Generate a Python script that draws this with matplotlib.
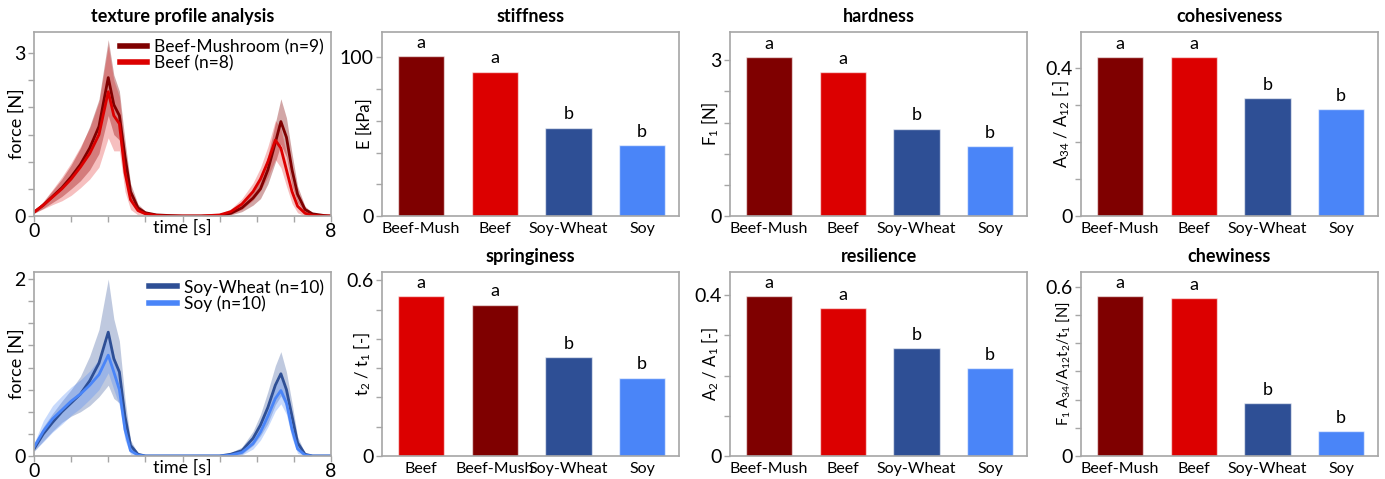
import numpy as np
import matplotlib.pyplot as plt

plt.rcParams['font.family'] = ['Lato', 'DejaVu Sans']
plt.rcParams['mathtext.fontset'] = 'custom'
plt.rcParams['mathtext.rm'] = 'Lato'
plt.rcParams['mathtext.it'] = 'Lato:italic'
plt.rcParams['mathtext.bf'] = 'Lato:bold'

C_BM = '#7f0000'
C_BEEF = '#dc0000'
C_SW = '#2e4f95'
C_SOY = '#4a85f8'
SPINE = '#a6a6a6'

# mean force curves of the two-bite compression test
t = [0, 0.25, 0.5, 0.75, 1.0, 1.25, 1.5, 1.75, 2.0, 2.15, 2.3, 2.45, 2.6, 2.8,
     3.0, 3.3, 3.6, 4.0, 4.5, 5.0, 5.3, 5.6, 5.9, 6.1, 6.3, 6.5, 6.65, 6.8,
     6.95, 7.1, 7.3, 7.5, 7.8, 8.0]

beef_mush_mean = [0.07, 0.2, 0.36, 0.52, 0.72, 0.95, 1.25, 1.65, 2.55, 2.05, 1.85, 1.1, 0.45, 0.15,
                  0.06, 0.02, 0.01, 0.0, 0.0, 0.01, 0.05, 0.15, 0.33, 0.5, 0.85, 1.35, 1.74, 1.45,
                  0.85, 0.4, 0.12, 0.04, 0.01, 0.0]
beef_mush_sd = [0.02, 0.06, 0.11, 0.16, 0.22, 0.3, 0.4, 0.5, 0.7, 0.55, 0.45, 0.3, 0.15, 0.07,
                0.03, 0.01, 0.0, 0.0, 0.0, 0.01, 0.03, 0.07, 0.13, 0.18, 0.26, 0.36, 0.42, 0.36,
                0.3, 0.15, 0.06, 0.02, 0.0, 0.0]
beef_mean = [0.07, 0.2, 0.35, 0.5, 0.68, 0.9, 1.15, 1.5, 2.29, 1.85, 1.7, 0.8, 0.3, 0.1,
             0.04, 0.01, 0.0, 0.0, 0.0, 0.02, 0.08, 0.22, 0.45, 0.68, 1.0, 1.4, 1.25, 0.85,
             0.45, 0.18, 0.05, 0.01, 0.0, 0.0]
beef_sd = [0.02, 0.07, 0.14, 0.22, 0.3, 0.38, 0.47, 0.6, 0.85, 0.65, 0.5, 0.35, 0.18, 0.08,
           0.03, 0.01, 0.0, 0.0, 0.0, 0.02, 0.05, 0.1, 0.16, 0.21, 0.28, 0.36, 0.36, 0.3,
           0.22, 0.12, 0.05, 0.02, 0.0, 0.0]

soy_wheat_mean = [0.08, 0.25, 0.38, 0.5, 0.6, 0.7, 0.85, 1.05, 1.4, 1.1, 0.95, 0.45, 0.12, 0.02,
                  0.0, 0.0, 0.0, 0.0, 0.0, 0.0, 0.02, 0.06, 0.2, 0.35, 0.55, 0.8, 0.93, 0.75,
                  0.45, 0.15, 0.02, 0.0, 0.0, 0.0]
soy_wheat_sd = [0.03, 0.08, 0.1, 0.12, 0.15, 0.2, 0.28, 0.38, 0.6, 0.45, 0.35, 0.2, 0.06, 0.01,
                0.0, 0.0, 0.0, 0.0, 0.0, 0.0, 0.02, 0.04, 0.08, 0.12, 0.18, 0.22, 0.25, 0.2,
                0.15, 0.07, 0.01, 0.0, 0.0, 0.0]
soy_mean = [0.1, 0.28, 0.42, 0.52, 0.62, 0.7, 0.8, 0.92, 1.14, 0.95, 0.75, 0.3, 0.06, 0.01,
            0.0, 0.0, 0.0, 0.0, 0.0, 0.0, 0.01, 0.04, 0.14, 0.27, 0.45, 0.65, 0.74, 0.6,
            0.3, 0.08, 0.01, 0.0, 0.0, 0.0]
soy_sd = [0.04, 0.12, 0.15, 0.16, 0.16, 0.16, 0.16, 0.17, 0.2, 0.2, 0.18, 0.12, 0.04, 0.01,
          0.0, 0.0, 0.0, 0.0, 0.0, 0.0, 0.01, 0.03, 0.06, 0.09, 0.12, 0.14, 0.15, 0.13,
          0.1, 0.05, 0.01, 0.0, 0.0, 0.0]

# TPA parameters (group means)
groups = ['Beef-Mush', 'Beef', 'Soy-Wheat', 'Soy']
groups_spring = ['Beef', 'Beef-Mush', 'Soy-Wheat', 'Soy']
stiffness = [100.7, 90.9, 55.6, 44.5]
hardness = [3.06, 2.77, 1.68, 1.35]
cohesiveness = [0.428, 0.428, 0.318, 0.288]
springiness = [0.547, 0.517, 0.338, 0.268]
resilience = [0.398, 0.368, 0.269, 0.219]
chewiness = [0.568, 0.559, 0.188, 0.089]
letters = ['a', 'a', 'b', 'b']

colour_of = {'Beef-Mush': C_BM, 'Beef': C_BEEF, 'Soy-Wheat': C_SW, 'Soy': C_SOY}

fig = plt.figure(figsize=(13.85, 4.79), dpi=100)

W, H = 1385, 479
lefts = [34, 382, 730, 1081]
tops = [32, 272]
aw, ah = 297, 184


def make_ax(row, col):
    x0 = lefts[col] / W
    y0 = 1 - (tops[row] + ah) / H
    return fig.add_axes([x0, y0, aw / W, ah / H])


def style(ax):
    for s in ax.spines.values():
        s.set_color(SPINE)
        s.set_linewidth(1.2)
    ax.tick_params(axis='y', direction='out', length=4, width=1, color=SPINE,
                   labelsize=14, pad=2)


def ends_only(vals, fmt):
    return [fmt(v) if i in (0, len(vals) - 1) else '' for i, v in enumerate(vals)]


def curve_panel(ax, series, ymax, yticks, ylabels, title=None):
    tt = np.array(t)
    for label, mean, sd, col, a in series:
        mean = np.array(mean)
        sd = np.array(sd)
        ax.fill_between(tt, np.clip(mean - sd, 0, None), mean + sd,
                        color=col, alpha=a, lw=0)
    for label, mean, sd, col, a in series:
        ax.plot(tt, mean, color=col, lw=2.0, label=label)
    style(ax)
    ax.set_xlim(0, 8)
    ax.set_ylim(0, ymax)
    ax.set_xticks(range(9))
    ax.set_xticklabels(ends_only(list(range(9)), str))
    ax.tick_params(axis='x', direction='out', length=4, width=1, color=SPINE,
                   labelsize=14, pad=1)
    ax.set_yticks(yticks)
    ax.set_yticklabels(ylabels)
    ax.set_xlabel('time [s]', fontsize=13)
    ax.xaxis.set_label_coords(0.5, -0.02)
    ax.set_ylabel('force [N]', fontsize=13)
    ax.yaxis.set_label_coords(-0.03, 0.5)
    leg = ax.legend(loc='upper right', frameon=False, fontsize=12.5,
                    handlelength=1.6, handletextpad=0.4, labelspacing=0.0,
                    borderaxespad=0.2, borderpad=0.2)
    for h in leg.get_lines():
        h.set_linewidth(4)
    if title:
        ax.set_title(title, fontsize=13, fontweight='bold', pad=7)


def bar_panel(ax, cats, vals, title, ylabel, ymax, step, top_tick, fmt, ylabel_size=12):
    x = np.arange(len(cats))
    cols = [colour_of[c] for c in cats]
    ax.bar(x, vals, width=0.63, color=cols, edgecolor=(1, 1, 1, 0.6), lw=1)
    for xi, v, l in zip(x, vals, letters):
        ax.annotate(l, (xi, v), xytext=(0, 6), textcoords='offset points',
                    ha='center', va='baseline', fontsize=13)
    style(ax)
    ax.set_xlim(-0.53, 3.5)
    ax.set_ylim(0, ymax)
    ticks = np.arange(0, top_tick + step / 2, step)
    ax.set_yticks(ticks)
    ax.set_yticklabels(ends_only(list(ticks), fmt))
    ax.set_xticks(x)
    ax.set_xticklabels(cats)
    ax.tick_params(axis='x', length=0, labelsize=11.5, pad=4)
    ax.set_ylabel(ylabel, fontsize=ylabel_size)
    ax.yaxis.set_label_coords(-0.03, 0.5)
    ax.set_title(title, fontsize=13, fontweight='bold', pad=7)


ax = make_ax(0, 0)
yt = np.arange(0, 3.01, 0.5)
curve_panel(ax, [('Beef-Mushroom (n=9)', beef_mush_mean, beef_mush_sd, C_BM, 0.35),
                 ('Beef (n=8)', beef_mean, beef_sd, C_BEEF, 0.25)],
            3.39, yt, ends_only(list(yt), lambda v: f'{v:g}'),
            title='texture profile analysis')

ax = make_ax(1, 0)
yt = np.arange(0, 2.01, 0.25)
curve_panel(ax, [('Soy-Wheat (n=10)', soy_wheat_mean, soy_wheat_sd, C_SW, 0.3),
                 ('Soy (n=10)', soy_mean, soy_sd, C_SOY, 0.3)],
            2.08, yt, ends_only(list(yt), lambda v: f'{v:g}'))

dec = lambda v: f'{v:.1f}' if v else '0'
bar_panel(make_ax(0, 1), groups, stiffness, 'stiffness', 'E [kPa]', 116, 20, 100, lambda v: f'{v:.0f}')
bar_panel(make_ax(0, 2), groups, hardness, 'hardness', 'F$_1$ [N]', 3.545, 0.6, 3.0, lambda v: f'{v:.0f}')
bar_panel(make_ax(0, 3), groups, cohesiveness, 'cohesiveness', 'A$_{34}$ / A$_{12}$ [-]', 0.496, 0.1, 0.4, dec)
bar_panel(make_ax(1, 1), groups_spring, springiness, 'springiness', 't$_2$ / t$_1$ [-]', 0.629, 0.1, 0.6, dec)
bar_panel(make_ax(1, 2), groups, resilience, 'resilience', 'A$_2$ / A$_1$ [-]', 0.458, 0.1, 0.4, dec)
bar_panel(make_ax(1, 3), groups, chewiness, 'chewiness', 'F$_1$ A$_{34}$/A$_{12}$t$_2$/t$_1$ [N]', 0.653, 0.1, 0.6,
          dec, ylabel_size=10.5)

fig.savefig('out.png', dpi=100)
